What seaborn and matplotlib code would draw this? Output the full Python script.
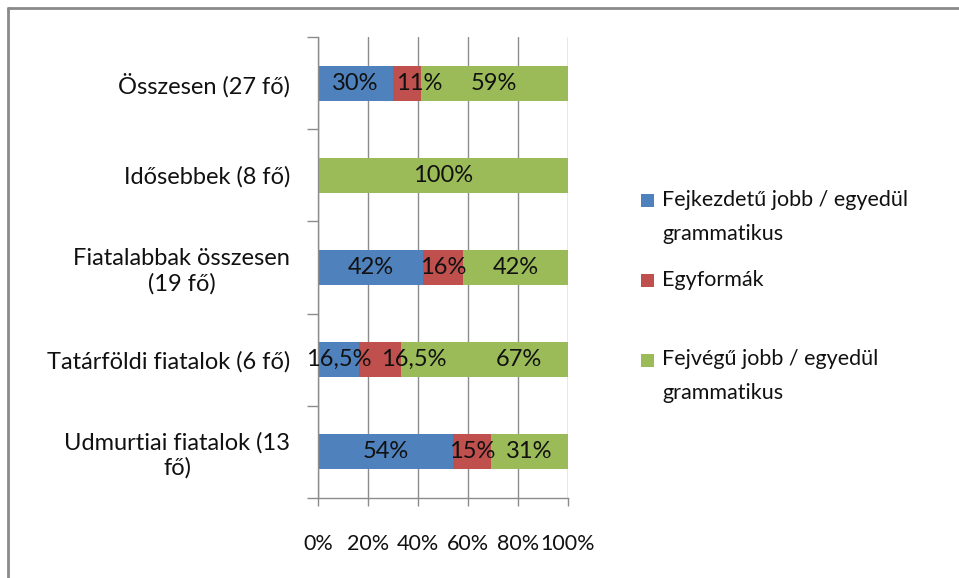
import numpy as np
import pandas as pd
import matplotlib
import matplotlib.pyplot as plt
from matplotlib.lines import Line2D
from matplotlib.patches import Rectangle
from matplotlib.ticker import PercentFormatter, FixedLocator
import seaborn as sns

plt.switch_backend('Agg')
sns.set_theme(style='white')
plt.rcParams['font.family'] = ['Lato', 'DejaVu Sans']

# categories, top to bottom
categories = ['Összesen (27 fő)', 'Idősebbek (8 fő)', 'Fiatalabbak összesen (19 fő)',
              'Tatárföldi fiatalok (6 fő)', 'Udmurtiai fiatalok (13 fő)']
cat_labels = ['Összesen (27 fő)', 'Idősebbek (8 fő)', 'Fiatalabbak összesen\n(19 fő)',
              'Tatárföldi fiatalok (6 fő)', 'Udmurtiai fiatalok (13\nfő)']
series = ['Fejkezdetű jobb / egyedül\ngrammatikus', 'Egyformák',
          'Fejvégű jobb / egyedül\ngrammatikus']
fejkezdetu = [30, 0, 42, 16.5, 54]
egyformak = [11, 0, 16, 16.5, 15]
fejvegu = [59, 100, 42, 67, 31]
colors = ['#4F81BD', '#C0504D', '#9BBB59']

FS = 15.5
FS_BIG = 17
GRAY = '#8C8C8C'
# labels that were dragged sideways in the original (row, series) -> shift in %
nudge = {(0, 1): 5, (3, 1): 13.5, (3, 2): 14}

df = pd.DataFrame({'cat': categories, 'a': fejkezdetu, 'b': egyformak, 'c': fejvegu})
df['ab'] = df['a'] + df['b']
df['abc'] = df['ab'] + df['c']

fig = plt.figure(figsize=(9.59, 5.78), dpi=100)
ax = fig.add_axes([318 / 959, 1 - 498 / 578, 250 / 959, 461 / 578])

# stacked bars: draw cumulative totals from the back to the front
for col, color in [('abc', colors[2]), ('ab', colors[1]), ('a', colors[0])]:
    sns.barplot(data=df, x=col, y='cat', order=categories, orient='h', color=color,
                saturation=1, width=0.38, linewidth=0, ax=ax)

def fmt(v):
    s = ('%d' % v) if float(v).is_integer() else ('%.1f' % v).replace('.', ',')
    return s + '%'

for i in range(len(categories)):
    left = 0
    for j, v in enumerate([fejkezdetu[i], egyformak[i], fejvegu[i]]):
        if v > 0:
            ax.text(left + v / 2 + nudge.get((i, j), 0), i, fmt(v), ha='center',
                    va='center', fontsize=FS_BIG, color='#111111')
        left += v

ax.set_xlim(0, 100)
ax.set_ylim(len(categories) - 0.5, -0.5)
ax.set_xlabel('')
ax.set_ylabel('')
ax.xaxis.set_major_locator(FixedLocator([0, 20, 40, 60, 80, 100]))
ax.xaxis.set_major_formatter(PercentFormatter(100, decimals=0))
ax.grid(axis='x', color=GRAY, linewidth=1)
ax.set_axisbelow(True)

ax.set_yticks(range(len(categories)))
ax.set_yticklabels(cat_labels)
for lbl in ax.get_yticklabels():
    lbl.set_multialignment('center')
ax.set_yticks(np.arange(-0.5, len(categories), 1), minor=True)
ax.tick_params(axis='y', which='major', length=0, pad=20, labelsize=FS_BIG, colors='#111111')
ax.tick_params(axis='y', which='minor', length=8, width=1, color=GRAY, left=True)
ax.tick_params(axis='x', which='major', length=6, width=1, color=GRAY, bottom=True,
               pad=20, labelsize=FS, labelcolor='#111111')

for s in ['top', 'right']:
    ax.spines[s].set_visible(False)
for s in ['left', 'bottom']:
    ax.spines[s].set_color(GRAY)
    ax.spines[s].set_linewidth(1)

# legend placed by hand (Excel spacing is uneven)
W, H = 959, 578
leg_rows = [(200, 217), (280, 280), (360, 376)]
for (sq_y, txt_y), name, color in zip(leg_rows, series, colors):
    fig.patches.append(Rectangle((641 / W, 1 - (sq_y + 7) / H), 13 / W, 13 / H,
                                 transform=fig.transFigure, facecolor=color,
                                 edgecolor='none'))
    fig.text(662 / W, 1 - txt_y / H, name, ha='left', va='center', fontsize=FS,
             color='#111111', linespacing=1.85)

# chart frame (only top and left edges visible in the crop)
fig.add_artist(Line2D([7.5 / W, 1], [1 - 8 / H, 1 - 8 / H], color='#8A8A8A', linewidth=2,
                      transform=fig.transFigure))
fig.add_artist(Line2D([7.5 / W, 7.5 / W], [0, 1 - 8 / H], color='#8A8A8A', linewidth=2,
                      transform=fig.transFigure))

fig.savefig('out.png', dpi=100)
